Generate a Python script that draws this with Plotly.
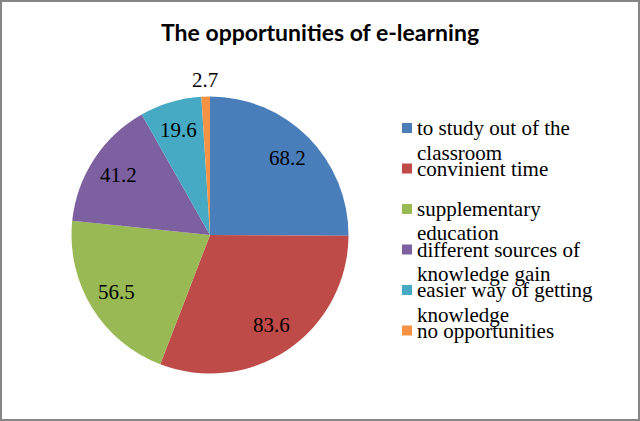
import math
import textwrap
import plotly.graph_objects as go

title = "The opportunities of e-learning"
categories = [
    "to study out of the classroom",
    "convinient time",
    "supplementary education",
    "different sources of knowledge gain",
    "easier way of getting knowledge",
    "no opportunities",
]
values = [68.2, 83.6, 56.5, 41.2, 19.6, 2.7]
colors = ["#4A7EBB", "#BE4B48", "#98B954", "#7D60A0", "#46AAC5", "#F59243"]
label_pos = ["inside", "inside", "inside", "inside", "inside", "outside"]

W, H = 640, 421
SERIF = "Liberation Serif, Times New Roman, serif"

# pie geometry (pixels)
CX, CY, R = 210.0, 235.0, 138.5

fig = go.Figure()
fig.add_trace(go.Pie(
    labels=categories,
    values=values,
    sort=False,
    direction="clockwise",
    rotation=0,
    marker=dict(colors=colors, line=dict(color="white", width=0)),
    textinfo="none",
    showlegend=False,
    domain=dict(x=[(CX - R) / W, (CX + R) / W], y=[(H - CY - R) / H, (H - CY + R) / H]),
    hoverinfo="label+value",
))

annotations = []
shapes = []

# data labels placed at the middle angle of each slice (Excel style)
total = sum(values)
cum = 0.0
for v, pos in zip(values, label_pos):
    theta = 2 * math.pi * (cum + v / 2) / total
    cum += v
    rr = R * (0.79 if pos == "inside" else 1.12)
    px = CX + rr * math.sin(theta)
    py = CY - rr * math.cos(theta)
    annotations.append(dict(text=f"{v}", xref="paper", yref="paper",
                            x=px / W, y=1 - py / H, xanchor="center", yanchor="middle",
                            showarrow=False,
                            font=dict(family=SERIF, size=21, color="black")))

# manual legend (Excel style, wrapped labels)
y0 = 128
step = 40.5
line_gap = 24.5
for i, (cat, col) in enumerate(zip(categories, colors)):
    yc = y0 + i * step
    shapes.append(dict(type="rect", xref="paper", yref="paper",
                       x0=402 / W, x1=412 / W,
                       y0=1 - (yc + 5) / H, y1=1 - (yc - 5) / H,
                       fillcolor=col, line=dict(width=0)))
    for j, line in enumerate(textwrap.wrap(cat, 21)):
        annotations.append(dict(text=line, xref="paper", yref="paper",
                                x=415 / W, y=1 - (yc + j * line_gap) / H,
                                xanchor="left", yanchor="middle", showarrow=False,
                                font=dict(family=SERIF, size=21, color="black")))

annotations.append(dict(text="<b>" + title + "</b>", xref="paper", yref="paper",
                        x=0.5, y=1 - 32 / H, xanchor="center", yanchor="middle",
                        showarrow=False,
                        font=dict(family="Lato, Carlito, Calibri, sans-serif", size=23, color="black")))

shapes.append(dict(type="rect", xref="paper", yref="paper",
                   x0=1 / W, x1=1 - 1 / W, y0=1 / H, y1=1 - 1 / H,
                   line=dict(color="#868686", width=2), fillcolor="rgba(0,0,0,0)"))

fig.update_layout(
    width=W, height=H,
    margin=dict(l=0, r=0, t=0, b=0),
    paper_bgcolor="white",
    plot_bgcolor="white",
    annotations=annotations,
    shapes=shapes,
)

fig.write_html("out.html",
               config={"displayModeBar": False},
               post_script="document.body.style.margin='0';document.body.style.padding='0';document.body.style.overflow='hidden';")
